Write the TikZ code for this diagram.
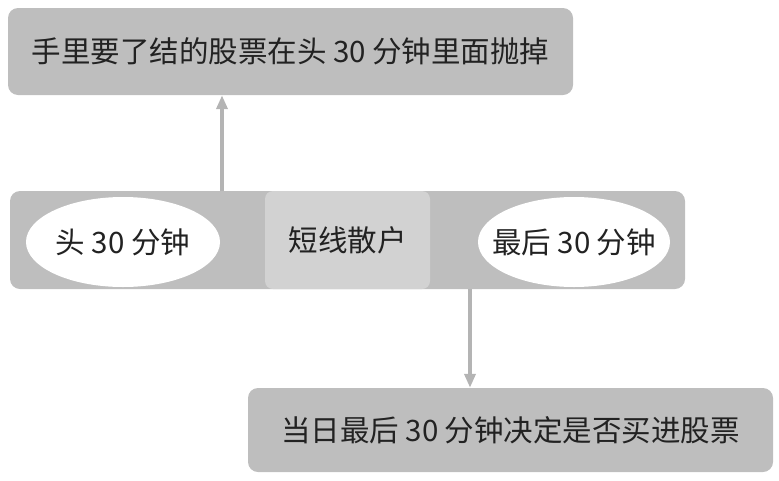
\documentclass[tikz,border=0pt]{standalone}
\usepackage{fontspec}
\newfontfamily\cjk{Noto Sans CJK SC}
\usetikzlibrary{arrows.meta,shapes.geometric}
\definecolor{boxgray}{HTML}{BEBEBE}
\definecolor{lightgray2}{HTML}{D2D2D2}
\definecolor{arrowgray}{HTML}{B4B4B4}
\definecolor{txt}{HTML}{222222}
\begin{document}
\begin{tikzpicture}[x=1pt,y=-1pt,
  every node/.style={font=\cjk\fontsize{29.5}{32}\selectfont, text=txt, inner sep=0pt},
  gbox/.style={rectangle, rounded corners=10pt, fill=boxgray, draw=none},
  cbox/.style={rectangle, rounded corners=8pt, fill=lightgray2, draw=none},
  oval/.style={ellipse, fill=white, draw=none},
  conn/.style={draw=arrowgray, line width=4pt, -{Triangle[width=11pt,length=14pt]}}
]
\useasboundingbox (0,0) rectangle (779,480);
\node[gbox, minimum width=565pt, minimum height=87pt] (top) at (290.5,51.5) {手里要了结的股票在头 30 分钟里面抛掉};
\node[gbox, minimum width=675pt, minimum height=98pt] (mid) at (347.5,240) {};
\node[cbox, minimum width=165pt, minimum height=98pt] (core) at (347.5,240) {短线散户};
\node[oval, minimum width=194pt, minimum height=90pt] (first) at (123,242) {};
\node (firsttext) at (first.center) {头 30 分钟};
\node[oval, minimum width=192pt, minimum height=90pt] (last) at (574,242) {};
\node (lasttext) at (last.center) {最后 30 分钟};
\node[gbox, minimum width=525pt, minimum height=84pt] (bot) at (510.5,430) {当日最后 30 分钟决定是否买进股票};
\coordinate (a1) at (222,191);
\coordinate (a2) at (470,289);
\draw[conn] (a1) -- (a1 |- top.south);
\draw[conn] (a2) -- (a2 |- bot.north);
\end{tikzpicture}
\end{document}
